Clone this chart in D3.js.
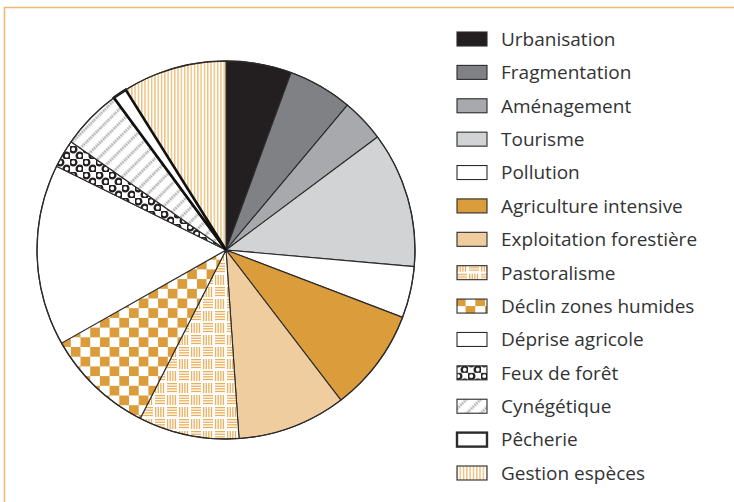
<!DOCTYPE html>
<html><head><meta charset="utf-8">
<script src="https://cdn.jsdelivr.net/npm/d3@7"></script>
<style>html,body{margin:0;padding:0;background:#fff;}svg{display:block;}</style>
</head><body>
<div id="chart"></div>
<script>
const categories = ["Urbanisation","Fragmentation","Aménagement","Tourisme","Pollution","Agriculture intensive","Exploitation forestière","Pastoralisme","Déclin zones humides","Déprise agricole","Feux de forêt","Cynégétique","Pêcherie","Gestion espèces"];
const values = [5.6,5.5,3.7,11.6,4.4,8.8,9.3,8.6,9.3,15.5,2.4,5.2,1.2,8.9];

const fills = ["#231f20","#808184","#a7a9ac","#d1d3d4","#ffffff","#db9d3b","#efcd9f","url(#pPast)","url(#pCheck)","#ffffff","url(#pFeux)","url(#pCyn)","#ffffff","url(#pGest)"];
const strokeW = categories.map(c => c === "Pêcherie" ? 2.6 : 1.1);

const W = 734, H = 502;
const svg = d3.select("#chart").append("svg").attr("width", W).attr("height", H);
const defs = svg.append("defs");
const orange = "#db9d3b", lightOr = "#e9b05c";

// Pastoralisme
let p = defs.append("pattern").attr("id","pPast").attr("patternUnits","userSpaceOnUse").attr("width",24).attr("height",24);
p.append("rect").attr("width",24).attr("height",24).attr("fill","#fff");
function hBlock(g,x,y){for(let i=0;i<4;i++) g.append("rect").attr("x",x).attr("y",y+i*2.6).attr("width",10).attr("height",1.3).attr("fill",lightOr);}
function vBlock(g,x,y){for(let i=0;i<4;i++) g.append("rect").attr("x",x+i*2.6).attr("y",y).attr("width",1.3).attr("height",10).attr("fill",lightOr);}
hBlock(p,1,1); vBlock(p,13,1); vBlock(p,1,13); hBlock(p,13,13);

// Checker
p = defs.append("pattern").attr("id","pCheck").attr("patternUnits","userSpaceOnUse").attr("width",19.4).attr("height",19.4);
p.append("rect").attr("width",19.4).attr("height",19.4).attr("fill","#fff");
p.append("rect").attr("width",9.7).attr("height",9.7).attr("fill",orange);
p.append("rect").attr("x",9.7).attr("y",9.7).attr("width",9.7).attr("height",9.7).attr("fill",orange);

// Feux de forêt
p = defs.append("pattern").attr("id","pFeux").attr("patternUnits","userSpaceOnUse").attr("width",13).attr("height",13);
p.append("rect").attr("width",13).attr("height",13).attr("fill","#fff");
[[3.25,3.25],[9.75,9.75]].forEach(([cx,cy])=>{
  p.append("circle").attr("cx",cx).attr("cy",cy).attr("r",3.1).attr("fill","none").attr("stroke","#231f20").attr("stroke-width",2.3);
});

// Cynégétique
p = defs.append("pattern").attr("id","pCyn").attr("patternUnits","userSpaceOnUse").attr("width",10).attr("height",10).attr("patternTransform","rotate(45)");
p.append("rect").attr("width",10).attr("height",10).attr("fill","#fff");
p.append("line").attr("x1",5).attr("x2",5).attr("y1",0).attr("y2",10).attr("stroke","#a9a9a9").attr("stroke-width",2.8).attr("stroke-dasharray","1.6,0.9");

// Gestion espèces
p = defs.append("pattern").attr("id","pGest").attr("patternUnits","userSpaceOnUse").attr("width",3.3).attr("height",10);
p.append("rect").attr("width",3.3).attr("height",10).attr("fill","#fff");
p.append("rect").attr("x",1).attr("width",1.1).attr("height",10).attr("fill",lightOr);

// frame
svg.append("path").attr("d","M4.5,502 L4.5,7.5 L734,7.5").attr("fill","none").attr("stroke","#f0b878").attr("stroke-width",1.6);

const cx = 226, cy = 250, R = 189;
const pie = d3.pie().sort(null).value(d => d.v).startAngle(0).endAngle(2*Math.PI);
const data = categories.map((c,i)=>({c, v: values[i], i}));
const arc = d3.arc().innerRadius(0).outerRadius(R);
const g = svg.append("g").attr("transform",`translate(${cx},${cy})`);
const arcs = pie(data);
g.selectAll("path.s").data(arcs).join("path").attr("class","s")
  .attr("d",arc).attr("fill",d=>fills[d.data.i]).attr("stroke","#2b2b2b").attr("stroke-width",d=>strokeW[d.data.i]).attr("stroke-linejoin","round");
g.selectAll("path.top").data(arcs.filter(d=>d.data.c==="Pêcherie")).join("path").attr("class","top")
  .attr("d",arc).attr("fill",d=>fills[d.data.i]).attr("stroke","#111").attr("stroke-width",2.6).attr("stroke-linejoin","miter");
g.append("circle").attr("r",R).attr("fill","none").attr("stroke","#2b2b2b").attr("stroke-width",1.3);

// legend
const y = d3.scalePoint().domain(categories).range([39,473]);
const lg = svg.append("g");
const rows = lg.selectAll("g").data(data).join("g").attr("transform",d=>`translate(0,${y(d.c)})`);
rows.append("rect").attr("x",457).attr("y",-7).attr("width",30).attr("height",14)
  .attr("fill",d=>fills[d.i]).attr("stroke","#2b2b2b").attr("stroke-width",d=>strokeW[d.i]===2.6?2.4:1.1);
rows.append("text").attr("x",501).attr("y",6.8).text(d=>d.c)
  .attr("font-family","'Open Sans', sans-serif").attr("font-size",19).attr("fill","#333");
</script>
</body></html>
